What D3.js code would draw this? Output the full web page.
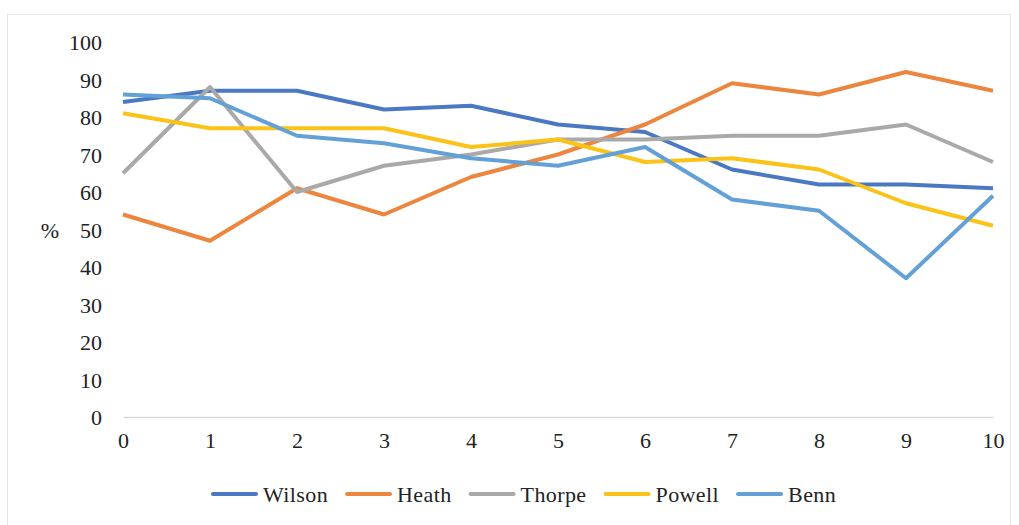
<!DOCTYPE html>
<html>
<head>
<meta charset="utf-8">
<script src="https://cdn.jsdelivr.net/npm/d3@7"></script>
<style>
  body { margin: 0; background: #fff; }
</style>
</head>
<body>
<div class="content"></div>
<script>
// data
const xTicks = [0, 1, 2, 3, 4, 5, 6, 7, 8, 9, 10];
const yTicks = [0, 10, 20, 30, 40, 50, 60, 70, 80, 90, 100];
const names = ['Wilson', 'Heath', 'Thorpe', 'Powell', 'Benn'];
const colors = ['#4A78C2', '#EC853E', '#A9A9A9', '#FBC218', '#62A0D6'];
const wilson = [84, 87, 87, 82, 83, 78, 76, 66, 62, 62, 61];
const heath  = [54, 47, 61, 54, 64, 70, 78, 89, 86, 92, 87];
const thorpe = [65, 88, 60, 67, 70, 74, 74, 75, 75, 78, 68];
const powell = [81, 77, 77, 77, 72, 74, 68, 69, 66, 57, 51];
const benn   = [86, 85, 75, 73, 69, 67, 72, 58, 55, 37, 59];
const series = [wilson, heath, thorpe, powell, benn];

const FONT = '"Liberation Serif", "Times New Roman", serif';

function main() {
  const svgW = 1019, svgH = 525;
  const svg = d3.select('.content').append('svg')
                .attr('width', svgW)
                .attr('height', svgH);

  // chart frame
  svg.append('rect')
     .attr('x', 7.5).attr('y', 14.5)
     .attr('width', 1003).attr('height', 520)
     .attr('fill', 'none')
     .attr('stroke', '#e6e6e6');

  const x = d3.scaleLinear().domain([0, 10]).range([123, 993]);
  const y = d3.scaleLinear().domain([0, 100]).range([417, 42]);

  // y labels (no axis line)
  const yAxis = svg.append('g')
     .attr('transform', 'translate(123,0)')
     .call(d3.axisLeft(y).tickValues(yTicks).tickSize(0).tickPadding(21));
  yAxis.select('.domain').remove();
  yAxis.selectAll('text')
       .attr('dy', '0.36em')
       .style('font-size', '22px').style('fill', '#222')
       .style('font-family', FONT);

  // x axis
  const xAxis = svg.append('g')
     .attr('transform', 'translate(0,417)')
     .call(d3.axisBottom(x).tickValues(xTicks).tickSize(0).tickPadding(20));
  xAxis.select('.domain').attr('stroke', '#d9d9d9').attr('stroke-width', 1.5);
  xAxis.selectAll('text')
       .attr('dy', '0.5em')
       .style('font-size', '22px').style('fill', '#222')
       .style('font-family', FONT);

  svg.append('text')
     .attr('x', 50).attr('y', y(50) + 8)
     .attr('text-anchor', 'middle')
     .style('font-size', '22px')
     .style('font-family', FONT)
     .style('fill', '#222')
     .text('%');

  const line = d3.line()
     .x((d, i) => x(xTicks[i]))
     .y(d => y(d));

  series.forEach((s, k) => {
    svg.append('path').datum(s)
       .attr('d', line)
       .attr('fill', 'none')
       .attr('stroke', colors[k])
       .attr('stroke-width', 4)
       .attr('stroke-linejoin', 'round');
  });

  // legend
  const legend = svg.append('g').attr('transform', 'translate(0,494)');
  let lx = 213;
  names.forEach((n, k) => {
    legend.append('line')
       .attr('x1', lx).attr('x2', lx + 43)
       .attr('y1', 0).attr('y2', 0)
       .attr('stroke', colors[k])
       .attr('stroke-width', 4)
       .attr('stroke-linecap', 'round');
    const t = legend.append('text')
       .attr('x', lx + 50).attr('y', 8)
       .style('font-size', '22px')
       .style('font-family', FONT)
       .style('fill', '#222')
       .style('letter-spacing', '0.4px')
       .text(n);
    lx += 50 + t.node().getComputedTextLength() + 19;
  });
}
main();
</script>
</body>
</html>
